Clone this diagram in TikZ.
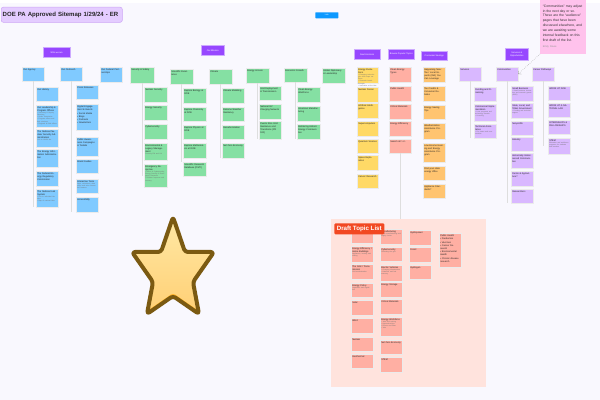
\documentclass[tikz,border=0pt]{standalone}
\usepackage{fontspec}
\setmainfont{Liberation Sans}
\definecolor{paper}{RGB}{249,248,254}
\definecolor{cardblue}{RGB}{128,202,255}
\definecolor{cardgreen}{RGB}{133,224,163}
\definecolor{cardyellow}{RGB}{255,217,102}
\definecolor{cardsalmon}{RGB}{255,175,163}
\definecolor{cardorange}{RGB}{255,196,112}
\definecolor{cardlilac}{RGB}{217,184,255}
\definecolor{headpurple}{RGB}{151,71,255}
\definecolor{headedge}{RGB}{205,170,255}
\definecolor{notepink}{RGB}{255,194,236}
\definecolor{titlelilac}{RGB}{228,204,255}
\definecolor{titleedge}{RGB}{205,165,245}
\definecolor{draftfill}{RGB}{255,227,221}
\definecolor{tagred}{RGB}{242,72,34}
\definecolor{btnblue}{RGB}{13,153,255}
\definecolor{starorange}{RGB}{255,174,26}
\definecolor{starlight}{RGB}{255,233,166}
\definecolor{starmid}{RGB}{255,208,118}
\definecolor{staredge}{RGB}{123,90,18}

\newdimen\pix
\pix=0.025cm
\newcommand{\cardfont}{\fontsize{1.65}{2.3}\selectfont}
\newcommand{\cardsub}[1]{\par{\fontsize{1.2}{1.55}\selectfont\color{black!55}#1\par}}

\tikzset{
  card/.style={rectangle, anchor=north west, fill=#1, draw=black!8, line width=0.1pt,
    inner sep=1.2\pix, text width=19.6\pix, align=left, text height=1.25pt,
    font=\cardfont, text=black!85},
  tall/.style={text depth=#1\pix-2.4\pix-1.25pt},
  wide/.style={text width=#1\pix},
  bluecard/.style={card=cardblue},
  greencard/.style={card=cardgreen},
  yellowcard/.style={card=cardyellow},
  salmoncard/.style={card=cardsalmon},
  orangecard/.style={card=cardorange},
  lilaccard/.style={card=cardlilac},
  header/.style={rectangle, anchor=north west, fill=headpurple, draw=headedge,
    line width=0.5\pix, inner sep=0pt, minimum height=10\pix, text=white,
    align=center, font=\fontsize{1.6}{2}\selectfont},
  stem/.style={draw=black!13, line width=0.9\pix},
}

\begin{document}
\begin{tikzpicture}[x=0.025cm, y=-0.025cm]
    \useasboundingbox (0,0) rectangle (600,400);
    \fill[paper] (0,0) rectangle (600,400);
    \fill[white] (0,0) rectangle (600,3);

    % title and top button
    \node[anchor=north west, rectangle, rounded corners=2\pix, fill=titlelilac, draw=titleedge,
      line width=0.5\pix, minimum height=12\pix, text width=118\pix, inner xsep=1.5\pix,
      align=left, font=\bfseries\fontsize{4.3}{5}\selectfont, text=black!85]
      (title) at (1,7) {DOE PA Approved Sitemap 1/29/24 - ER};
    \node[anchor=north west, rectangle, rounded corners=0.5\pix, fill=btnblue, inner sep=0pt,
      minimum width=23\pix, minimum height=6\pix, text=white,
      font=\fontsize{1.4}{1.6}\selectfont] (link) at (315,12) {Link};

    % section headers
    \node[header, minimum width=27\pix] (whoweare) at (43,47) {Who we are};
    \node[header, minimum width=23\pix] (mission)  at (201,45) {Our Mission};
    \node[header, minimum width=26\pix] (horizons) at (354,49) {Next Horizons};
    \node[header, minimum width=26\pix] (popular)  at (388,49) {Browse Popular Topics};
    \node[header, minimum width=26\pix, minimum height=9\pix] (savings) at (421,51) {Consumer Savings};
    \node[header, minimum width=23\pix, minimum height=12\pix] (opportunities) at (505,48) {Services \&\\Opportunities};

    % review note
    \node[anchor=north west, rectangle, fill=notepink, inner sep=2.5\pix, text width=41\pix,
      text height=6pt, text depth=44\pix, align=left,
      font=\fontsize{2.4}{3.45}\selectfont, text=black!80]
      (reviewnote) at (540,-4)
      {``Communities'' may adjust\\in the next day or so.\\These are the ``audience''\\pages that have been\\discussed elsewhere, and\\we are awaiting some\\internal feedback on this\\first draft of the list.\\[1.2pt]{\color{black!40}\fontsize{1.8}{2}\selectfont Emily Rowe}};

    % who we are
    \node[bluecard, tall=14] (agency)   at (22,67)  {Our Agency};
    \node[bluecard, tall=14] (outreach) at (60,67)  {Our Outreach};
    \node[bluecard, tall=15] (partners) at (100,67) {Our Federal Partnerships};
    \node[bluecard, tall=14] (history)    at (36,87)  {Our History};
    \node[bluecard, tall=22] (leadership) at (36,105) {Our Leadership \& Program Offices\cardsub{\textbullet\ Secretary \& Deputy Secretary\\\textbullet\ Under Secretaries\\\textbullet\ Program offices and their missions\\\textbullet\ Regional \& field offices}};
    \node[bluecard, tall=18] (nnsa)       at (36,129) {The National Nuclear Security Administration\cardsub{Link to NNSA site}};
    \node[bluecard, tall=18] (eia)        at (36,149) {The Energy Information Administration};
    \node[bluecard, tall=15] (ferc)       at (36,171) {The Federal Energy Regulatory Commission};
    \node[bluecard, tall=18] (labs)       at (36,189) {The National Lab System\cardsub{\textbullet\ Link to individual lab sites\\\textbullet\ Map of national labs}};
    \node[bluecard, tall=14] (press)     at (76,85)  {Press Releases};
    \node[bluecard, tall=26] (digital)   at (76,104) {Digital Engagement \& Events\\[0.4pt]\textbullet\ Social Media\\\textbullet\ Blogs\\\textbullet\ Podcasts\\\textbullet\ Newsletters};
    \node[bluecard, tall=19] (campaigns) at (76,137) {Public Awareness Campaigns \& Toolkits};
    \node[bluecard, tall=14] (brand)     at (76,159) {Brand Guides};
    \node[bluecard, tall=14] (tools)     at (76,179) {Interactive Tools\cardsub{Apps, calculators, data maps and other interactive features}};
    \node[bluecard, tall=15] (access)    at (76,197) {Accessibility};

    % our mission
    \node[greencard, wide=21.6, tall=16] (security)  at (130,67) {Security \& Safety};
    \node[greencard, wide=20.6, tall=15] (science)   at (170,69) {Scientific Excellence};
    \node[greencard, wide=20.6, tall=15] (climate)   at (209,69) {Climate};
    \node[greencard, wide=20.6, tall=15] (eaccess)   at (246,68) {Energy Access};
    \node[greencard, wide=20.6, tall=14] (growth)    at (284,68) {Economic Growth};
    \node[greencard, wide=20.6, tall=15] (diplomacy) at (322,68) {Global Diplomacy \& Leadership};
    \node[greencard, wide=20.6, tall=15] (nuclear)   at (144,87)  {Nuclear Security};
    \node[greencard, wide=20.6, tall=15] (esecurity) at (144,105) {Energy Security};
    \node[greencard, wide=20.6, tall=15] (cyber)     at (144,124) {Cybersecurity};
    \node[greencard, wide=20.6, tall=17] (legacy)    at (144,143) {Environmental \& Legacy Management\cardsub{Formerly EM and LM}};
    \node[greencard, wide=20.6, tall=23] (emergency) at (144,164) {Emergency Response\cardsub{\textbullet\ Office of Cybersecurity, Energy Security \& Emergency Response\\\textbullet\ Disaster response and recovery}};
    \node[greencard, wide=20.6, tall=15] (biology)   at (183,88)  {Explore Biology at DOE};
    \node[greencard, wide=20.6, tall=14] (chemistry) at (183,107) {Explore Chemistry at DOE};
    \node[greencard, wide=20.6, tall=14] (physics)   at (183,125) {Explore Physics at DOE};
    \node[greencard, wide=20.6, tall=15] (math)      at (183,143) {Explore Mathematics at DOE};
    \node[greencard, wide=20.6, tall=14] (osti)      at (183,162) {Scientific Research Database (OSTI)};
    \node[greencard, tall=15] (modeling) at (222,88)  {Climate Modeling};
    \node[greencard, tall=14] (weather)  at (222,107) {Extreme Weather Resiliency};
    \node[greencard, tall=14] (decarb)   at (222,125) {Decarbonization};
    \node[greencard, tall=15] (netzero)  at (222,143) {Net Zero Economy};
    \node[greencard, tall=14] (grid)     at (259,86)  {Grid Deployment \& Transmission};
    \node[greencard, tall=15] (evnet)    at (259,104) {National EV Charging Network};
    \node[greencard, tall=18] (prgrid)   at (259,121) {Puerto Rico Grid Resilience and Transitions (PR 100)};
    \node[greencard, wide=20.6, tall=15] (workforce)     at (297,87)  {Clean Energy Workforce};
    \node[greencard, wide=20.6, tall=15] (manufacturing) at (297,106) {American Manufacturing};
    \node[greencard, wide=20.6, tall=15] (historic)      at (297,124) {Bolstering Historic Energy Communities};

    % next horizons
    \node[yellowcard, wide=18.6, tall=16] (evolutions) at (357,67)  {Energy Evolutions\cardsub{\textbullet\ Emerging technologies that shape our future\\\textbullet\ Research breakthroughs\\\textbullet\ Innovation at the labs}};
    \node[yellowcard, wide=18.6, tall=15] (fusion)     at (357,87)  {Nuclear Fusion};
    \node[yellowcard, wide=18.6, tall=15] (ai)         at (357,103) {Artificial Intelligence};
    \node[yellowcard, wide=18.6, tall=15] (supercomp)  at (357,121) {Supercomputers};
    \node[yellowcard, wide=18.6, tall=14] (quantum)    at (357,139) {Quantum Science};
    \node[yellowcard, wide=18.6, tall=15] (space)      at (357,155) {Space Exploration};
    \node[yellowcard, wide=18.6, tall=14] (cancer)     at (357,174) {Cancer Research};

    % browse popular topics
    \node[salmoncard, tall=15] (cleantypes) at (389,67)  {Clean Energy Types};
    \node[salmoncard, tall=15] (health)     at (389,86)  {Public Health};
    \node[salmoncard, tall=15] (materials)  at (389,104) {Critical Materials};
    \node[salmoncard, tall=15] (efficiency) at (389,121) {Energy Efficiency};
    \node[salmoncard, tall=14] (search)     at (389,139) {Search all >{}>{}>};

    % consumer savings
    \node[orangecard, tall=15] (happening)   at (423,67)  {Happening Now: Tax / Local Impacts (IRA) You Can Leverage};
    \node[orangecard, tall=15] (credits)     at (423,86)  {Tax Credits \& Consumer Rebates};
    \node[orangecard, tall=14] (tips)        at (423,105) {Energy Saving Tips};
    \node[orangecard, tall=16] (wap)         at (423,123) {Weatherization Assistance Program};
    \node[orangecard, tall=19] (liheap)      at (423,143) {Low-Income Heating and Energy Assistance Program};
    \node[orangecard, tall=14] (stateoffice) at (423,166) {Find your state energy office};
    \node[orangecard, tall=14] (appliance)   at (423,184) {Appliance Standards?};

    % services and opportunities
    \node[lilaccard, tall=14] (services)    at (459,67) {Services};
    \node[lilaccard, tall=14] (communities) at (496,67) {Communities};
    \node[lilaccard, tall=14] (careers)     at (532,67) {Career Pathways};
    \node[lilaccard, tall=14] (funding)     at (474,87)  {Funding and Financing};
    \node[lilaccard, tall=17] (commercial)  at (474,104) {Commercial Implementation\cardsub{\textbullet\ Loan programs and technology transfer\\\textbullet\ Licensing}};
    \node[lilaccard, tall=14] (techassist)  at (474,124) {Technical Assistance\cardsub{\textbullet\ For states and communities}};
    \node[lilaccard, tall=15] (smallbiz)    at (511,86)  {Small Business\cardsub{\textbullet\ Small business innovation and research grants (SBIR)}};
    \node[lilaccard, tall=15] (government)  at (511,103) {State, Local, and Tribal Government\cardsub{\textbullet\ Funding and technical support}};
    \node[lilaccard, tall=14] (nonprofits)  at (511,121) {Nonprofits};
    \node[lilaccard, tall=14] (industry)    at (511,137) {Industry};
    \node[lilaccard, tall=15] (underserved) at (511,153) {Historically Underserved Communities};
    \node[lilaccard, tall=15] (farms)       at (511,171) {Farms \& Agriculture?};
    \node[lilaccard, tall=14] (researchers) at (511,189) {Researchers};
    \node[lilaccard, tall=14] (workdoe)     at (548,86)  {WORK AT DOE};
    \node[lilaccard, tall=14] (worklab)     at (548,103) {WORK AT A NATIONAL LAB};
    \node[lilaccard, tall=14] (internships) at (548,120) {INTERNSHIPS \& FELLOWSHIPS};
    \node[lilaccard, tall=16] (stem)        at (548,138) {STEM\cardsub{Education and workforce programs for students and teachers}};

    % draft topic list
    \node[anchor=north west, rectangle, fill=draftfill, inner sep=0pt,
      minimum width=155\pix, minimum height=168\pix] (draftarea) at (331,219) {};
    \node[salmoncard, tall=15] (dhidden)    at (351,228) {};
    \node[salmoncard, tall=16] (dhome)      at (351,246) {Energy Efficiency / Home Buildings\cardsub{Appliances, heating and cooling}};
    \node[salmoncard, tall=15] (dgrid)      at (351,264) {The Grid / Transmission\cardsub{Grid modernization}};
    \node[salmoncard, tall=14] (dpolicy)    at (351,283) {Energy Policy\cardsub{Legislation and regulation}};
    \node[salmoncard, tall=15] (dsolar)     at (351,300) {Solar};
    \node[salmoncard, tall=15] (dwind)      at (351,318) {Wind};
    \node[salmoncard, tall=14] (dnuclear)   at (351,337) {Nuclear};
    \node[salmoncard, tall=14] (dgeo)       at (351,354) {Geothermal};
    \node[salmoncard, tall=15] (dmanuf)     at (380,229) {Manufacturing\cardsub{Clean manufacturing and supply chains}};
    \node[salmoncard, tall=14] (dcyber)     at (380,247) {Cybersecurity\cardsub{Protecting the grid}};
    \node[salmoncard, tall=16] (dev)        at (380,265) {Electric Vehicles\cardsub{\textbullet\ Charging infrastructure\\\textbullet\ Batteries and fuel economy}};
    \node[salmoncard, tall=15] (dstorage)   at (380,282) {Energy Storage};
    \node[salmoncard, tall=15] (dmaterials) at (380,299) {Critical Materials};
    \node[salmoncard, tall=19] (dworkforce) at (380,317) {Energy Workforce\cardsub{\textbullet\ Jobs and training\\\textbullet\ Apprenticeships\\\textbullet\ Unions and labor\\\textbullet\ Jobs}};
    \node[salmoncard, tall=14] (dnetzero)   at (380,340) {Net Zero Economy};
    \node[salmoncard, tall=15] (dstem)      at (380,357) {STEM};
    \node[salmoncard, tall=15] (dhydro)     at (409,230) {Hydropower};
    \node[salmoncard, tall=15] (dfossil)    at (409,247) {Fossil};
    \node[salmoncard, tall=14] (dhydrogen)  at (409,265) {Hydrogen};
    \node[salmoncard, tall=34] (dhealth)    at (439,233) {Public Health\\[0.4pt]\textbullet\ Pandemics\\\textbullet\ Vaccines\\\textbullet\ Cancer Research\\\textbullet\ Environmental Health\\\textbullet\ Chronic disease research};
    \node[anchor=north west, rectangle, rounded corners=1.2\pix, fill=tagred, inner sep=0pt,
      minimum width=50\pix, minimum height=11\pix, text=white,
      font=\bfseries\fontsize{4.4}{5}\selectfont] (drafttag) at (334,223) {Draft Topic List};

    % stems
    \draw[stem] (agency.south)      -- (agency.south |- labs.south);
    \draw[stem] (outreach.south)    -- (outreach.south |- access.south);
    \draw[stem] (security.south)    -- (security.south |- emergency.center);
    \draw[stem] (science.south)     -- (science.south |- osti.north);
    \draw[stem] (climate.south)     -- (climate.south |- netzero.south);
    \draw[stem] (eaccess.south)     -- (eaccess.south |- prgrid.south);
    \draw[stem] (growth.south)      -- (growth.south |- historic.south);
    \draw[stem] (search.south)      -- (search.south |- draftarea.north);
    \draw[stem] (services.south)    -- (services.south |- techassist.south);
    \draw[stem] (communities.south) -- (communities.south |- researchers.south);
    \draw[stem] (careers.south)     -- (careers.south |- stem.center);
    \draw[black!35, densely dotted, line width=0.5\pix, ->] (reviewnote.south west) -- (communities.east);

    % star
    \fill[starorange, rounded corners=3\pix]
      (173,217) -- (185,252) -- (214,252) -- (193,282) -- (199,314) -- (173,296)
      -- (147,314) -- (153,282) -- (132,252) -- (161,252) -- cycle;
    \begin{scope}
      \clip[rounded corners=3\pix]
        (173,217) -- (185,252) -- (214,252) -- (193,282) -- (199,314) -- (173,296)
        -- (147,314) -- (153,282) -- (132,252) -- (161,252) -- cycle;
      \shade[top color=starlight, bottom color=starmid, rounded corners=3\pix, yshift=3\pix]
        (173,217) -- (185,252) -- (214,252) -- (193,282) -- (199,314) -- (173,296)
        -- (147,314) -- (153,282) -- (132,252) -- (161,252) -- cycle;
    \end{scope}
    \draw[staredge, line width=4\pix, line join=round, rounded corners=3\pix]
      (173,217) -- (185,252) -- (214,252) -- (193,282) -- (199,314) -- (173,296)
      -- (147,314) -- (153,282) -- (132,252) -- (161,252) -- cycle;
\end{tikzpicture}
\end{document}
